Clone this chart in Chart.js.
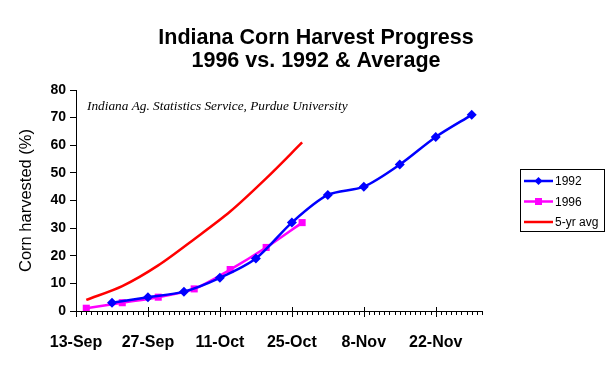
<!DOCTYPE html>
<html>
<head>
<meta charset="utf-8">
<script src="https://cdn.jsdelivr.net/npm/chart.js@4/dist/chart.umd.min.js"></script>
<style>
  html, body { margin: 0; padding: 0; background: #fff; }
  #wrap { width: 615px; height: 365px; position: relative; }
</style>
</head>
<body>
<div id="wrap"><canvas id="chart" width="615" height="365"></canvas></div>
<script>
// days counted from 13-Sep
const tickLabels = ['13-Sep', '27-Sep', '11-Oct', '25-Oct', '8-Nov', '22-Nov'];
const tickDays = [0, 14, 28, 42, 56, 70];

const days1992 = [7, 14, 21, 28, 35, 42, 49, 56, 63, 70, 77];
const values1992 = [3, 5, 7, 12, 19, 32, 42, 45, 53, 63, 71];

const days1996 = [2, 9, 16, 23, 30, 37, 44];
const values1996 = [1, 3, 5, 8, 15, 23, 32];

const daysAvg = [2, 9, 16, 23, 30, 37, 44];
const valuesAvg = [4, 9, 16.5, 26, 36, 48, 61];

const seriesNames = ['1992', '1996', '5-yr avg'];

function pairs(xs, ys) {
    return xs.map((x, i) => ({ x: x, y: ys[i] }));
}

const overlay = {
    id: 'overlay',
    afterDraw(chart) {
        const ctx = chart.ctx;
        const xs = chart.scales.x;
        const ys = chart.scales.y;
        ctx.save();
        ctx.fillStyle = '#000';
        ctx.textAlign = 'center';
        ctx.textBaseline = 'middle';
        ctx.font = 'bold 21.5px Arial, "Liberation Sans", sans-serif';
        ctx.fillText('Indiana Corn Harvest Progress', 316, 38);
        ctx.fillText('1996 vs. 1992 & Average', 316, 61);

        // source note
        ctx.textAlign = 'left';
        ctx.font = 'italic 13.3px "Times New Roman", "Liberation Serif", serif';
        ctx.fillText('Indiana Ag. Statistics Service, Purdue University', 87, 107);

        // x axis ticks: small daily, larger every 14 days
        ctx.strokeStyle = '#000';
        ctx.lineWidth = 1;
        const y0 = ys.getPixelForValue(0);
        for (let d = 0; d <= xs.max; d++) {
            const px = Math.round(xs.getPixelForValue(d)) + 0.5;
            ctx.beginPath();
            if (tickDays.includes(d)) {
                ctx.moveTo(px, y0 - 4);
                ctx.lineTo(px, y0 + 6);
            } else {
                ctx.moveTo(px, y0);
                ctx.lineTo(px, y0 + 4);
            }
            ctx.stroke();
        }

        // legend
        const lx = 520, ly = 169, lw = 84, lh = 62;
        ctx.strokeRect(lx + 0.5, ly + 0.5, lw, lh);
        ctx.font = '12px Arial, "Liberation Sans", sans-serif';
        chart.data.datasets.forEach((ds, i) => {
            const yy = ly + 12 + i * 20.5;
            ctx.strokeStyle = ds.borderColor;
            ctx.lineWidth = 2.5;
            ctx.beginPath();
            ctx.moveTo(lx + 4, yy);
            ctx.lineTo(lx + 33, yy);
            ctx.stroke();
            ctx.fillStyle = ds.borderColor;
            if (ds.pointStyle === 'rectRot') {
                ctx.beginPath();
                ctx.moveTo(lx + 18.5, yy - 4);
                ctx.lineTo(lx + 22.5, yy);
                ctx.lineTo(lx + 18.5, yy + 4);
                ctx.lineTo(lx + 14.5, yy);
                ctx.closePath();
                ctx.fill();
            } else if (ds.pointStyle === 'rect') {
                ctx.fillRect(lx + 15, yy - 3.5, 7, 7);
            }
            ctx.fillStyle = '#000';
            ctx.fillText(ds.label, lx + 35, yy + 1);
        });
        ctx.restore();
    }
};

new Chart(document.getElementById('chart').getContext('2d'), {
    type: 'line',
    data: {
        datasets: [{
            label: seriesNames[0],
            data: pairs(days1992, values1992),
            borderColor: '#0000ff',
            backgroundColor: '#0000ff',
            borderWidth: 2.5,
            pointStyle: 'rectRot',
            pointRadius: 5,
            pointBorderWidth: 0,
            tension: 0.3,
            fill: false
        }, {
            label: seriesNames[1],
            data: pairs(days1996, values1996),
            borderColor: '#ff00ff',
            backgroundColor: '#ff00ff',
            borderWidth: 2.5,
            pointStyle: 'rect',
            pointRadius: 5,
            pointBorderWidth: 0,
            tension: 0.3,
            fill: false
        }, {
            label: seriesNames[2],
            data: pairs(daysAvg, valuesAvg),
            borderColor: '#ff0000',
            backgroundColor: '#ff0000',
            borderWidth: 2.5,
            pointRadius: 0,
            tension: 0.3,
            fill: false
        }]
    },
    options: {
        responsive: false,
        animation: false,
        layout: { padding: { top: 90, right: 133, left: 0, bottom: 0 } },
        plugins: {
            legend: { display: false },
            title: { display: false },
            tooltip: { enabled: false }
        },
        scales: {
            x: {
                type: 'linear',
                min: 0,
                max: 79,
                afterFit: (s) => { s.height = 54; },
                afterBuildTicks: (s) => { s.ticks = tickDays.map(v => ({ value: v })); },
                ticks: {
                    autoSkip: false,
                    maxRotation: 0,
                    padding: 14,
                    color: '#000',
                    font: { family: 'Arial, "Liberation Sans", sans-serif', size: 16, weight: 'bold' },
                    callback: (v) => tickLabels[tickDays.indexOf(v)]
                },
                grid: { display: false, drawOnChartArea: false },
                border: { display: true, color: '#000', width: 1 }
            },
            y: {
                min: 0,
                max: 80,
                afterFit: (s) => { s.width = 76; },
                ticks: {
                    stepSize: 10,
                    padding: 4,
                    color: '#000',
                    font: { family: 'Arial, "Liberation Sans", sans-serif', size: 14, weight: 'bold' }
                },
                grid: { drawOnChartArea: false, tickLength: 6, color: '#000' },
                border: { display: true, color: '#000', width: 1 },
                title: {
                    display: true,
                    text: 'Corn harvested (%)',
                    color: '#000',
                    padding: { top: 17, bottom: 0 },
                    font: { family: 'Arial, "Liberation Sans", sans-serif', size: 16.5 }
                }
            }
        }
    },
    plugins: [overlay]
});
</script>
</body>
</html>
